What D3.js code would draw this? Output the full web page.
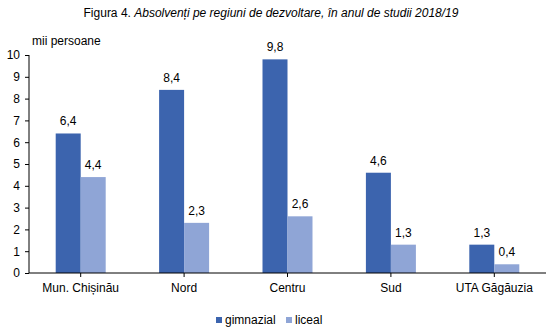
<!DOCTYPE html>
<html><head><meta charset="utf-8">
<script src="https://cdn.jsdelivr.net/npm/d3@7"></script>
<style>body{margin:0;background:#fff}svg{display:block;font-family:"Liberation Sans",Arial,sans-serif}</style>
</head><body>
<svg id="c" width="553" height="330"></svg>
<script>
const categories = ["Mun. Chișinău","Nord","Centru","Sud","UTA Găgăuzia"];
const gimnazial = [6.4, 8.4, 9.8, 4.6, 1.3];
const liceal = [4.4, 2.3, 2.6, 1.3, 0.4];
const seriesNames = ["gimnazial","liceal"];
const yTicks = [0,1,2,3,4,5,6,7,8,9,10];
const colors = ["#3C64AE","#8FA5D6"];

(function(){
const svg = d3.select("#c");
const mLeft = 29, mRight = 546, mTop = 55, mBottom = 273;
const x = d3.scaleBand().domain(categories).range([mLeft, mRight]);
const y = d3.scaleLinear().domain([0,10]).range([mBottom, mTop]);
const barW = 25;
const fmt = v => d3.format(".1f")(v).replace(".", ",");

// title
const t = svg.append("text").attr("x", 271).attr("y", 17).attr("text-anchor","middle")
  .attr("font-size", 12).attr("fill","#000");
t.append("tspan").text("Figura 4. ");
t.append("tspan").attr("font-style","italic").text("Absolvenți pe regiuni de dezvoltare, în anul de studii 2018/19");

svg.append("text").attr("x", 32).attr("y", 45).attr("font-size", 12).attr("fill","#000").text("mii persoane");

// y axis
const yAxis = svg.append("g").attr("transform", `translate(${mLeft},0)`)
  .call(d3.axisLeft(y).tickValues(yTicks).tickSize(4).tickPadding(5).tickFormat(d3.format("d")));
yAxis.selectAll("text").attr("font-size", 12).attr("fill","#000").attr("font-family","Liberation Sans, Arial, sans-serif");
yAxis.selectAll("line,path").attr("stroke","#000");
yAxis.select("path").attr("d", `M0,${mTop}V${mBottom}`);

const series = [gimnazial, liceal];
series.forEach((vals, si) => {
  const g = svg.append("g");
  g.selectAll("rect").data(categories).join("rect")
    .attr("x", c => x(c) + x.bandwidth()/2 + (si === 0 ? -barW : 0))
    .attr("y", (c,i) => y(vals[i]))
    .attr("width", barW)
    .attr("height", (c,i) => y(0) - y(vals[i]))
    .attr("fill", colors[si]);
  g.selectAll("text").data(categories).join("text")
    .attr("x", c => x(c) + x.bandwidth()/2 + (si === 0 ? -barW/2 : barW/2))
    .attr("y", (c,i) => y(vals[i]) - 8)
    .attr("text-anchor","middle").attr("font-size", 12).attr("fill","#000")
    .text((c,i) => fmt(vals[i]));
});

// x axis
const xAxis = svg.append("g").attr("transform", `translate(0,${mBottom})`)
  .call(d3.axisBottom(x).tickSize(4).tickPadding(6));
xAxis.selectAll("text").attr("font-size", 12).attr("fill","#000").attr("font-family","Liberation Sans, Arial, sans-serif");
xAxis.selectAll("line,path").attr("stroke","#000");
xAxis.select("path").attr("d", `M${mLeft},0H${mRight}`);

// legend
const legendX = [216, 286];
seriesNames.forEach((n, i) => {
  svg.append("rect").attr("x", legendX[i]).attr("y", 317).attr("width", 6).attr("height", 6).attr("fill", colors[i]);
  svg.append("text").attr("x", legendX[i] + 9).attr("y", 324).attr("font-size", 12).attr("fill","#000").text(n);
});
})();
</script>
</body></html>
